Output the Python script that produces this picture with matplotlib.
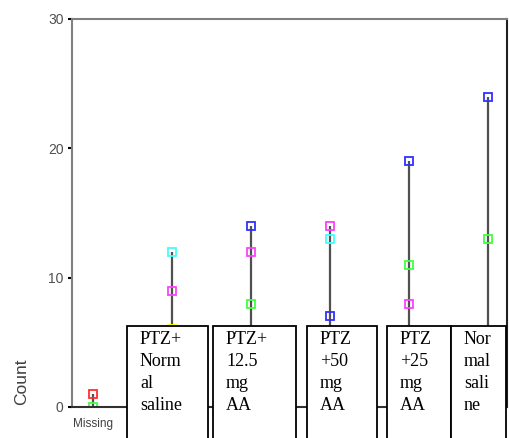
import matplotlib
matplotlib.use('Agg')
import matplotlib.pyplot as plt
from matplotlib.patches import Rectangle
import numpy as np

# categories along the x axis (only "Missing" is labelled on the axis itself)
categories = ['Missing', 'PTZ+Normal saline', 'PTZ+12.5 mg AA',
              'PTZ+50 mg AA', 'PTZ+25 mg AA', 'Normal saline']

# counts per series (nan = no point); values hidden behind the boxes are guesses
blue = [np.nan, np.nan, 14, 7, 19, 24]
magenta = [np.nan, 9, 12, 14, 8, 5]
cyan = [np.nan, 12, np.nan, 13, np.nan, np.nan]
green = [0, np.nan, 8, 4, 11, 13]
red = [1, np.nan, np.nan, np.nan, np.nan, np.nan]
yellow = [np.nan, 6, 3, np.nan, 2, np.nan]

series = [(blue, '#3030ff'), (magenta, '#ff40ff'), (cyan, '#40ffff'),
          (green, '#40ff40'), (red, '#ff3030'), (yellow, '#ffff00')]

# text shown in the overlaid category boxes
box_labels = ['PTZ+\nNorm\nal\nsaline', 'PTZ+\n12.5\nmg\nAA',
              'PTZ\n+50\nmg\nAA', 'PTZ\n+25\nmg\nAA', 'Nor\nmal\nsali\nne']

W, H = 510, 438
fig = plt.figure(figsize=(W / 100, H / 100), dpi=100)
ax = fig.add_axes([72 / W, (H - 407) / H, (507 - 72) / W, (407 - 19) / H])

x = np.arange(len(categories))
allv = np.array([s for s, _ in series], dtype=float)
lo = np.nanmin(allv, axis=0)
hi = np.nanmax(allv, axis=0)
ax.vlines(x, lo, hi, color='#505050', lw=1.6, zorder=2)

for vals, col in series:
    ax.plot(x, vals, 's', ms=5.5, mfc='none', mec=col, mew=1.3,
            ls='none', zorder=2.2)

ax.set_xlim(-0.27, 5.24)
ax.set_ylim(0, 30)
ax.set_yticks([0, 10, 20, 30])
ax.set_xticks([0])
ax.set_xticklabels(['Missing'])
ax.tick_params(axis='x', length=0, pad=8, labelsize=8.5, labelcolor='#404040')
ax.tick_params(axis='y', length=3, width=1.5, color='black', pad=3,
               labelsize=10, labelcolor='#505050')
for lab in ax.get_xticklabels() + ax.get_yticklabels():
    lab.set_family('Liberation Sans')

ax.spines['left'].set_color('#808080')
ax.spines['top'].set_color('#808080')
ax.spines['right'].set_color('#202020')
ax.spines['bottom'].set_color('#303030')
for sp in ax.spines.values():
    sp.set_linewidth(1.5)

fig.text(22 / W, 1 - 382 / H, 'Count', rotation=90, ha='center', va='center',
         fontsize=12.5, color='#404040', family='Liberation Sans')

# white boxes with the category names, covering the lower plot area
box_edges = [(127, 208), (213, 296), (307, 377), (387, 451), (451, 506)]
box_top = 326
for (x0, x1), txt in zip(box_edges, box_labels):
    r = Rectangle((x0 / W, 1 - 445 / H), (x1 - x0) / W, (445 - box_top) / H,
                  transform=fig.transFigure, facecolor='white',
                  edgecolor='black', lw=1.3, zorder=10)
    fig.add_artist(r)
    fig.text((x0 + 13) / W, 1 - (box_top + 5) / H, txt, ha='left', va='top',
             fontsize=13, family='Liberation Serif', linespacing=1.38,
             zorder=11)

fig.savefig('out.png', dpi=100)
